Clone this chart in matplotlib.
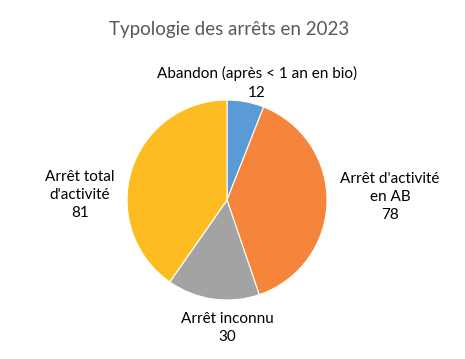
import matplotlib.pyplot as plt

categories = ["Abandon (après < 1 an en bio)", "Arrêt d'activité\nen AB",
              "Arrêt inconnu", "Arrêt total\nd'activité"]
values = [12, 78, 30, 81]
colors = ["#5A9BD6", "#F5853A", "#A3A3A3", "#FCBC22"]
# label anchor positions (in pie radius units), as Excel placed them
label_pos = [(0.30, 1.17), (1.63, 0.03), (0.0, -1.28), (-1.47, 0.05)]

plt.rcParams["font.family"] = ["Lato", "DejaVu Sans"]

fig = plt.figure(figsize=(4.65, 3.59), dpi=100)
ax = fig.add_axes([127 / 465, 59 / 359, 200 / 465, 200 / 359])
ax.pie(values, colors=colors, startangle=90, counterclock=False,
       wedgeprops=dict(edgecolor="white", linewidth=0.8))
ax.set_xlim(-1, 1)
ax.set_ylim(-1, 1)
ax.set_aspect("equal")

for cat, val, (x, y) in zip(categories, values, label_pos):
    ax.text(x, y, f"{cat}\n{val}", ha="center", va="center", fontsize=11,
            color="#000000", linespacing=1.4, clip_on=False)

fig.text(229 / 465, 1 - 30 / 359, "Typologie des arrêts en 2023",
         ha="center", va="center", fontsize=13.5, color="#595959")

fig.savefig("out.png", dpi=100)
